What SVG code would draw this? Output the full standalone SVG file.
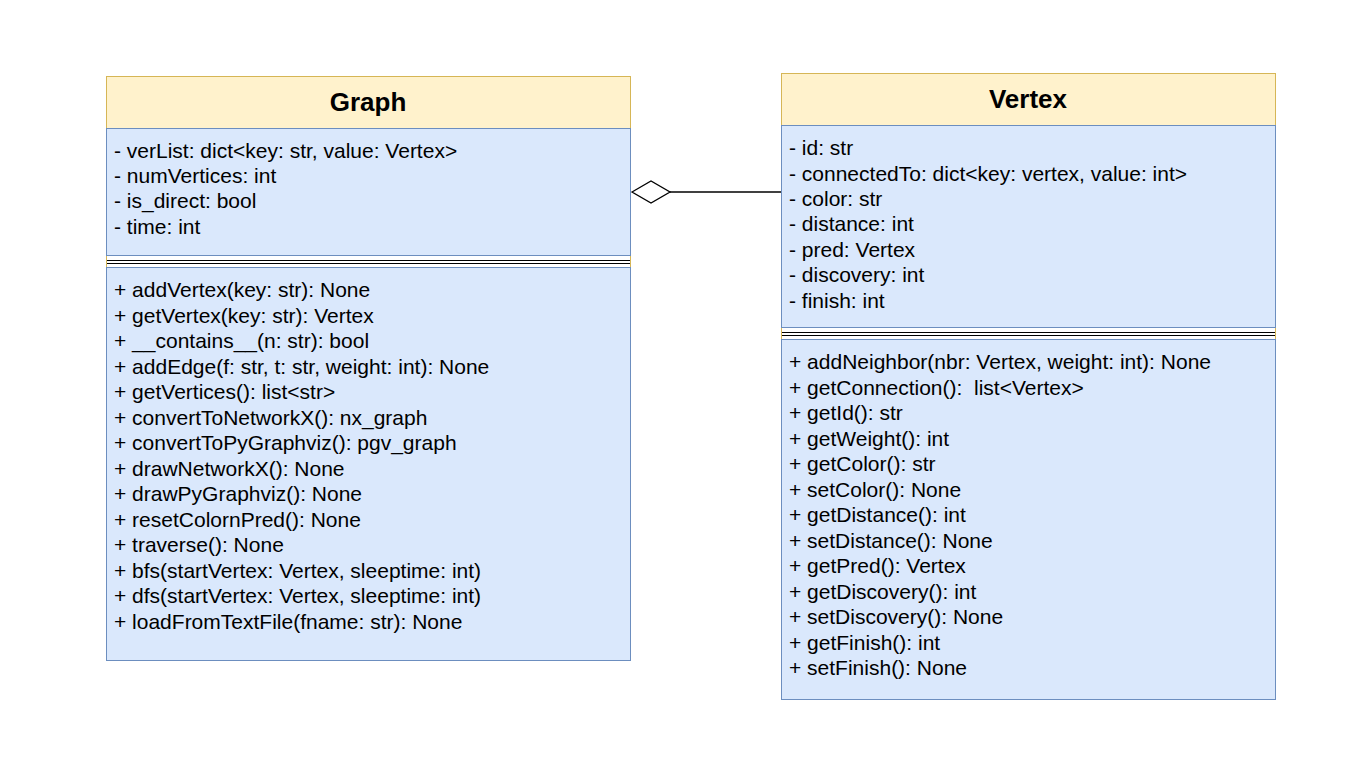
<svg xmlns="http://www.w3.org/2000/svg" width="1367" height="761" viewBox="0 0 1367 761">
<style>
.frame{fill:#ffffff;stroke:#d6b656;stroke-width:1}
.head{fill:#fff2cc;stroke:#d6b656;stroke-width:1}
.body{fill:#dae8fc;stroke:#6c8ebf;stroke-width:1}
.sep{stroke:#000000;stroke-width:1}
.title{font-family:"Liberation Sans",Arial,Helvetica,sans-serif;font-size:26px;font-weight:bold;fill:#000000;text-anchor:middle}
.t{font-family:"Liberation Sans",Arial,Helvetica,sans-serif;font-size:21px;fill:#000000}
.conn{fill:none;stroke:#000000;stroke-width:1.3}
</style>
<rect x="0" y="0" width="1367" height="761" fill="#ffffff"/>
<g id="connectors">
<path class="conn" d="M670 192 H781"/>
<path class="conn" d="M632 192 L651 181 L670 192 L651 203 Z" fill="#ffffff"/>
</g>
<g id="graph">
<rect class="frame" x="106.5" y="76.5" width="524" height="584"/>
<rect class="head" x="106.5" y="76.5" width="524" height="52"/>
<text class="title" x="368" y="111">Graph</text>
<rect class="body" x="106.5" y="128.5" width="524" height="127"/>
<line class="sep" x1="107" y1="260.5" x2="630" y2="260.5"/>
<line class="sep" x1="107" y1="263.5" x2="630" y2="263.5"/>
<rect class="body" x="106.5" y="267.5" width="524" height="393"/>
<text class="t" x="114" y="158">- verList: dict&lt;key: str, value: Vertex&gt;</text>
<text class="t" x="114" y="183">- numVertices: int</text>
<text class="t" x="114" y="208">- is_direct: bool</text>
<text class="t" x="114" y="234">- time: int</text>
<text class="t" x="114" y="297">+ addVertex(key: str): None</text>
<text class="t" x="114" y="323">+ getVertex(key: str): Vertex</text>
<text class="t" x="114" y="348">+ __contains__(n: str): bool</text>
<text class="t" x="114" y="374">+ addEdge(f: str, t: str, weight: int): None</text>
<text class="t" x="114" y="399">+ getVertices(): list&lt;str&gt;</text>
<text class="t" x="114" y="425">+ convertToNetworkX(): nx_graph</text>
<text class="t" x="114" y="450">+ convertToPyGraphviz(): pgv_graph</text>
<text class="t" x="114" y="476">+ drawNetworkX(): None</text>
<text class="t" x="114" y="501">+ drawPyGraphviz(): None</text>
<text class="t" x="114" y="527">+ resetColornPred(): None</text>
<text class="t" x="114" y="552">+ traverse(): None</text>
<text class="t" x="114" y="578">+ bfs(startVertex: Vertex, sleeptime: int)</text>
<text class="t" x="114" y="603">+ dfs(startVertex: Vertex, sleeptime: int)</text>
<text class="t" x="114" y="629">+ loadFromTextFile(fname: str): None</text>
</g>
<g id="vertex">
<rect class="frame" x="781.5" y="73.5" width="494" height="626"/>
<rect class="head" x="781.5" y="73.5" width="494" height="52"/>
<text class="title" x="1028" y="108">Vertex</text>
<rect class="body" x="781.5" y="125.5" width="494" height="202"/>
<line class="sep" x1="782" y1="332.5" x2="1275" y2="332.5"/>
<line class="sep" x1="782" y1="335.5" x2="1275" y2="335.5"/>
<rect class="body" x="781.5" y="339.5" width="494" height="360"/>
<text class="t" x="789" y="155">- id: str</text>
<text class="t" x="789" y="181">- connectedTo: dict&lt;key: vertex, value: int&gt;</text>
<text class="t" x="789" y="206">- color: str</text>
<text class="t" x="789" y="231">- distance: int</text>
<text class="t" x="789" y="257">- pred: Vertex</text>
<text class="t" x="789" y="282">- discovery: int</text>
<text class="t" x="789" y="308">- finish: int</text>
<text class="t" x="789" y="369">+ addNeighbor(nbr: Vertex, weight: int): None</text>
<text class="t" x="789" y="395" xml:space="preserve">+ getConnection():  list&lt;Vertex&gt;</text>
<text class="t" x="789" y="420">+ getId(): str</text>
<text class="t" x="789" y="446">+ getWeight(): int</text>
<text class="t" x="789" y="471">+ getColor(): str</text>
<text class="t" x="789" y="497">+ setColor(): None</text>
<text class="t" x="789" y="522">+ getDistance(): int</text>
<text class="t" x="789" y="548">+ setDistance(): None</text>
<text class="t" x="789" y="573">+ getPred(): Vertex</text>
<text class="t" x="789" y="599">+ getDiscovery(): int</text>
<text class="t" x="789" y="624">+ setDiscovery(): None</text>
<text class="t" x="789" y="650">+ getFinish(): int</text>
<text class="t" x="789" y="675">+ setFinish(): None</text>
</g>
</svg>
